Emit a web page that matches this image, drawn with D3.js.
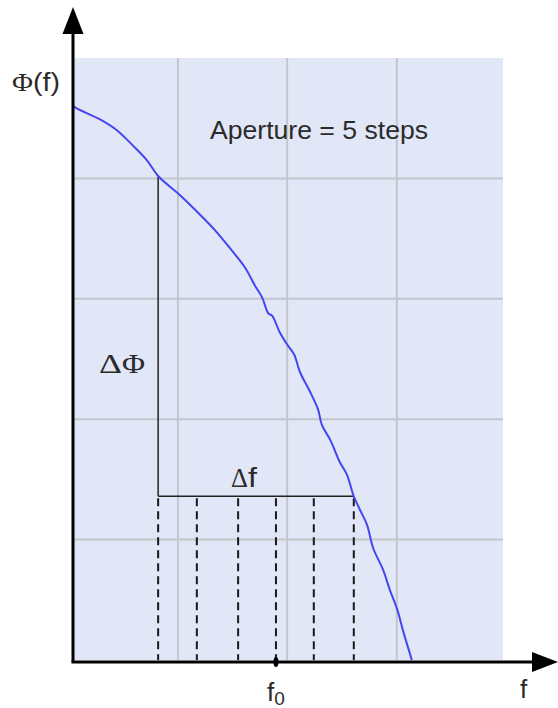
<!DOCTYPE html>
<html>
<head>
<meta charset="utf-8">
<script src="https://cdn.jsdelivr.net/npm/d3@7"></script>
<style>
  html, body { margin: 0; padding: 0; background: #fff; }
  svg { display: block; }
</style>
</head>
<body>
<svg id="chart" width="558" height="708"></svg>
<script>
// ---- data (units) ----
const curveX = [0, 0.5, 6.3, 10.2, 14.0, 17.2, 19.8, 24.9, 29.5, 33.0, 36.5, 40.0, 42.3, 44.0, 45.4, 46.3, 48.1, 49.8, 51.4, 52.8, 55.1, 57.0, 57.9, 59.8, 62.1, 63.7, 65.3, 66.7, 68.4, 69.8, 72.1, 73.7, 75.4, 76.7, 78.8];
const curveY = [4.61, 4.59, 4.49, 4.40, 4.27, 4.15, 4.02, 3.86, 3.70, 3.57, 3.42, 3.26, 3.11, 3.01, 2.88, 2.86, 2.72, 2.62, 2.54, 2.39, 2.23, 2.08, 1.95, 1.83, 1.64, 1.54, 1.36, 1.25, 1.12, 0.93, 0.75, 0.58, 0.42, 0.25, 0];
const gridX = [24.4, 49.8, 75.3];
const gridY = [1, 2, 3, 4];
const apertureX = [19.8, 28.8, 38.4, 47.2, 56.0, 65.3];
const f0 = 47.2;
const deltaPhiTop = 4.02;
const deltaFLevel = 1.36;
const titleText = "Aperture = 5 steps";

// ---- scales ----
const x = d3.scaleLinear().domain([0, 100]).range([73, 503]);
const y = d3.scaleLinear().domain([0, 5]).range([660, 58]);

const svg = d3.select("#chart");

// background
svg.append("rect")
  .attr("x", x(0)).attr("y", y(5))
  .attr("width", x(100) - x(0)).attr("height", y(0) - y(5))
  .attr("fill", "#e1e7f7");

// grid
svg.append("g").selectAll("line").data(gridX).join("line")
  .attr("x1", d => x(d)).attr("x2", d => x(d))
  .attr("y1", y(5)).attr("y2", y(0))
  .attr("stroke", "#c4c6cc").attr("stroke-width", 2);
svg.append("g").selectAll("line").data(gridY).join("line")
  .attr("x1", x(0)).attr("x2", x(100))
  .attr("y1", d => y(d)).attr("y2", d => y(d))
  .attr("stroke", "#c4c6cc").attr("stroke-width", 2);

// dashed aperture lines
svg.append("g").selectAll("line").data(apertureX).join("line")
  .attr("x1", d => x(d)).attr("x2", d => x(d))
  .attr("y1", y(deltaFLevel)).attr("y2", y(0))
  .attr("stroke", "#1a1a1a").attr("stroke-width", 2)
  .attr("stroke-dasharray", "8,5").attr("stroke-dashoffset", -2);

// ΔΦ vertical and Δf horizontal
svg.append("line")
  .attr("x1", x(apertureX[0])).attr("x2", x(apertureX[0]))
  .attr("y1", y(deltaPhiTop)).attr("y2", y(deltaFLevel))
  .attr("stroke", "#222").attr("stroke-width", 1.5);
svg.append("line")
  .attr("x1", x(apertureX[0])).attr("x2", x(apertureX[apertureX.length - 1]))
  .attr("y1", y(deltaFLevel)).attr("y2", y(deltaFLevel))
  .attr("stroke", "#222").attr("stroke-width", 1.5);

// curve
const pts = curveX.map((d, i) => [d, curveY[i]]);
svg.append("path")
  .datum(pts)
  .attr("d", d3.line().x(d => x(d[0])).y(d => y(d[1])).curve(d3.curveCatmullRom))
  .attr("fill", "none").attr("stroke", "#4545f2").attr("stroke-width", 2);

// axes
svg.append("line")
  .attr("x1", x(0)).attr("x2", x(0)).attr("y1", 30).attr("y2", y(0) + 2)
  .attr("stroke", "#000").attr("stroke-width", 3);
svg.append("line")
  .attr("x1", x(0) - 1.5).attr("x2", 535).attr("y1", y(0) + 2).attr("y2", y(0) + 2)
  .attr("stroke", "#000").attr("stroke-width", 3);
// arrow heads
svg.append("path")
  .attr("d", `M${x(0)},7 L${x(0) + 10.5},34 L${x(0) - 10.5},34 Z`)
  .attr("fill", "#000");
svg.append("path")
  .attr("d", `M558,${y(0) + 2} L532,${y(0) - 8} L532,${y(0) + 12} Z`)
  .attr("fill", "#000");

// f0 marker
svg.append("ellipse")
  .attr("cx", x(f0)).attr("cy", y(0) + 2).attr("rx", 2.5).attr("ry", 5)
  .attr("fill", "#000");

// labels
const sans = "Liberation Sans, Arial, sans-serif";
const serif = "Liberation Serif, Times New Roman, serif";
const txtCol = "#2b2b2b";

svg.append("text")
  .attr("x", 210).attr("y", 139)
  .attr("font-family", sans).attr("font-size", 26).attr("fill", txtCol)
  .attr("textLength", 218).attr("lengthAdjust", "spacingAndGlyphs")
  .text(titleText);

const phi = svg.append("text").attr("x", 12).attr("y", 91).attr("fill", txtCol);
phi.append("tspan").attr("font-family", serif).attr("font-size", 26)
  .attr("textLength", 21).attr("lengthAdjust", "spacingAndGlyphs").text("Φ");
phi.append("tspan").attr("font-family", sans).attr("font-size", 26)
  .attr("textLength", 27).attr("lengthAdjust", "spacingAndGlyphs").text("(f)");

const dphi = svg.append("text").attr("x", 99).attr("y", 373).attr("fill", txtCol)
  .attr("font-family", serif).attr("font-size", 28);
dphi.append("tspan").attr("textLength", 23).attr("lengthAdjust", "spacingAndGlyphs").text("Δ");
dphi.append("tspan").attr("textLength", 23).attr("lengthAdjust", "spacingAndGlyphs").text("Φ");

const df = svg.append("text").attr("x", 231).attr("y", 487).attr("fill", txtCol);
df.append("tspan").attr("font-family", serif).attr("font-size", 28)
  .attr("textLength", 17).attr("lengthAdjust", "spacingAndGlyphs").text("Δ");
df.append("tspan").attr("font-family", sans).attr("font-size", 27)
  .attr("textLength", 9).attr("lengthAdjust", "spacingAndGlyphs").text("f");

const f0t = svg.append("text").attr("x", 267).attr("y", 701).attr("fill", txtCol)
  .attr("font-family", sans);
f0t.append("tspan").attr("font-size", 26).text("f");
f0t.append("tspan").attr("font-size", 19).attr("dy", 4).text("0");

svg.append("text")
  .attr("x", 520).attr("y", 698).attr("fill", txtCol)
  .attr("font-family", sans).attr("font-size", 26).text("f");
</script>
</body>
</html>
